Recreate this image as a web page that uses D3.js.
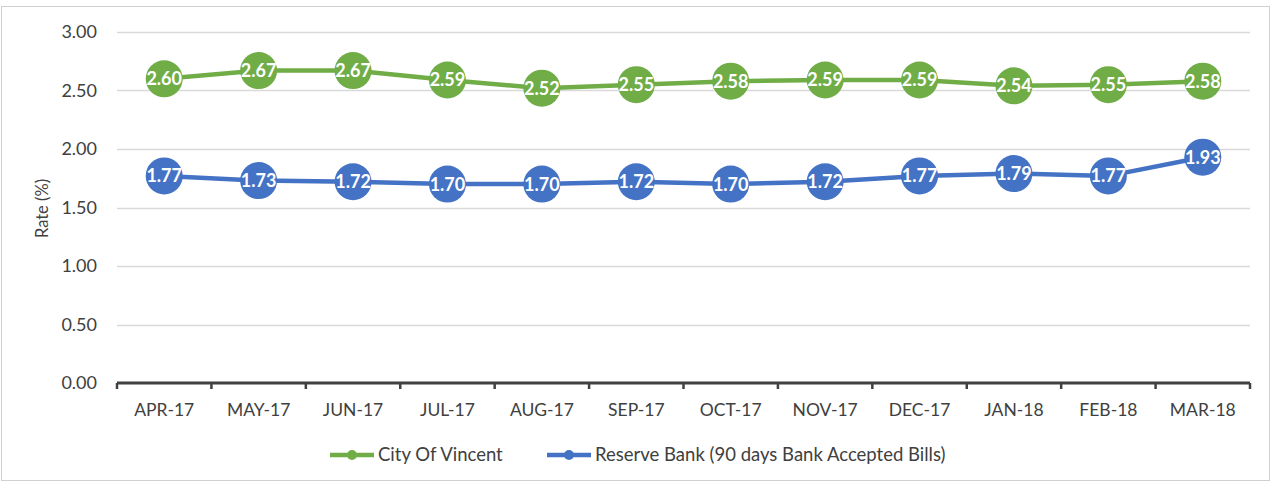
<!DOCTYPE html>
<html>
<head>
<meta charset="utf-8">
<script src="https://cdn.jsdelivr.net/npm/d3@7"></script>
<style>
  body { margin: 0; background: #fff; }
  svg { display: block; font-family: Lato, "Open Sans", sans-serif; }
</style>
</head>
<body>
<div id="chart"></div>
<script>
// Data
const MONTHS = ['APR-17', 'MAY-17', 'JUN-17', 'JUL-17', 'AUG-17', 'SEP-17', 'OCT-17', 'NOV-17', 'DEC-17', 'JAN-18', 'FEB-18', 'MAR-18'];
const VINCENT = [2.60, 2.67, 2.67, 2.59, 2.52, 2.55, 2.58, 2.59, 2.59, 2.54, 2.55, 2.58];
const RESERVE = [1.77, 1.73, 1.72, 1.70, 1.70, 1.72, 1.70, 1.72, 1.77, 1.79, 1.77, 1.93];
const Y_TICKS = [0, 0.5, 1, 1.5, 2, 2.5, 3];

const SERIES = [
    { name: 'City Of Vincent', values: VINCENT, color: '#70ad47' },
    { name: 'Reserve Bank (90 days Bank Accepted Bills)', values: RESERVE, color: '#4472c4' }
];

const WIDTH = 1271, HEIGHT = 483;
const PLOT = { left: 117, right: 1250, top: 32, bottom: 383 };

const svg = d3.select('#chart').append('svg')
    .attr('width', WIDTH)
    .attr('height', HEIGHT);

// chart border
svg.append('rect')
    .attr('x', 1.5).attr('y', 6.5)
    .attr('width', WIDTH - 3).attr('height', HEIGHT - 9)
    .attr('fill', 'none')
    .attr('stroke', '#d0d0d0');

// Scales
const x = d3.scaleBand().domain(MONTHS).range([PLOT.left, PLOT.right]);
const y = d3.scaleLinear().domain([0, 3]).range([PLOT.bottom, PLOT.top]);

// Gridlines
svg.append('g')
    .selectAll('line')
    .data(Y_TICKS.filter(d => d > 0))
    .enter().append('line')
    .attr('x1', PLOT.left).attr('x2', PLOT.right)
    .attr('y1', d => Math.round(y(d)) + 0.5)
    .attr('y2', d => Math.round(y(d)) + 0.5)
    .attr('stroke', '#d9d9d9')
    .attr('stroke-width', 1.3);

// Y axis labels
svg.append('g')
    .selectAll('text')
    .data(Y_TICKS)
    .enter().append('text')
    .attr('x', 97)
    .attr('y', d => y(d))
    .attr('dy', '0.35em')
    .attr('text-anchor', 'end')
    .attr('fill', '#404040')
    .style('font-size', '18px')
    .text(d => d.toFixed(2));

// Y axis title
svg.append('text')
    .attr('transform', `translate(48, ${(PLOT.top + PLOT.bottom) / 2 + 1}) rotate(-90)`)
    .attr('text-anchor', 'middle')
    .attr('fill', '#404040')
    .style('font-size', '16.5px')
    .text('Rate (%)');

// X axis
const xAxis = d3.axisBottom(x).tickSize(0).tickPadding(21);
const xg = svg.append('g')
    .attr('transform', `translate(0, ${PLOT.bottom})`)
    .call(xAxis);
xg.select('.domain').remove();
xg.selectAll('text')
    .attr('fill', '#404040')
    .style('font-size', '17.5px')
    .style('font-family', 'Lato, "Open Sans", sans-serif');

// axis line and boundary ticks
svg.append('line')
    .attr('x1', PLOT.left).attr('x2', PLOT.right)
    .attr('y1', PLOT.bottom).attr('y2', PLOT.bottom)
    .attr('stroke', '#404040')
    .attr('stroke-width', 3);
svg.append('g')
    .selectAll('line')
    .data(d3.range(MONTHS.length + 1))
    .enter().append('line')
    .attr('x1', i => PLOT.left + i * x.step())
    .attr('x2', i => PLOT.left + i * x.step())
    .attr('y1', PLOT.bottom)
    .attr('y2', PLOT.bottom + 6)
    .attr('stroke', '#404040')
    .attr('stroke-width', 2.5);

// Lines, markers, labels
const line = d3.line()
    .x((d, i) => x(MONTHS[i]) + x.bandwidth() / 2)
    .y(d => y(d));

SERIES.forEach(s => {
    const g = svg.append('g');
    g.append('path')
        .datum(s.values)
        .attr('d', line)
        .attr('fill', 'none')
        .attr('stroke', s.color)
        .attr('stroke-width', 4.5)
        .attr('stroke-linejoin', 'round');
    g.selectAll('circle')
        .data(s.values)
        .enter().append('circle')
        .attr('cx', (d, i) => x(MONTHS[i]) + x.bandwidth() / 2)
        .attr('cy', d => y(d))
        .attr('r', 18.5)
        .attr('fill', s.color);
    g.selectAll('text')
        .data(s.values)
        .enter().append('text')
        .attr('x', (d, i) => x(MONTHS[i]) + x.bandwidth() / 2)
        .attr('y', d => y(d))
        .attr('dy', '0.36em')
        .attr('text-anchor', 'middle')
        .attr('fill', '#fff')
        .style('font-size', '18px')
        .style('font-weight', 'bold')
        .text(d => d.toFixed(2));
});

// Legend
const LEGEND_POS = [330, 547];
const legend = svg.append('g').attr('transform', 'translate(0, 455)');
SERIES.forEach((s, i) => {
    const lx = LEGEND_POS[i];
    legend.append('line')
        .attr('x1', lx).attr('x2', lx + 44)
        .attr('y1', 0).attr('y2', 0)
        .attr('stroke', s.color)
        .attr('stroke-width', 4.5);
    legend.append('circle')
        .attr('cx', lx + 22).attr('cy', 0)
        .attr('r', 5)
        .attr('fill', s.color);
    legend.append('text')
        .attr('x', lx + 48)
        .attr('y', 0)
        .attr('dy', '0.35em')
        .attr('fill', '#404040')
        .style('font-size', '18.5px')
        .text(s.name);
});
</script>
</body>
</html>
